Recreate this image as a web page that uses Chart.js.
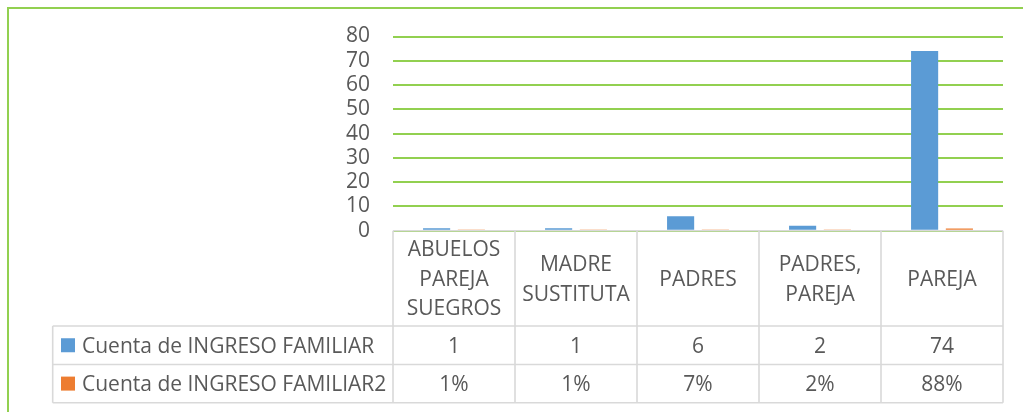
<!DOCTYPE html>
<html>
<head>
<meta charset="utf-8">
<script src="https://cdn.jsdelivr.net/npm/chart.js@4/dist/chart.umd.min.js"></script>
<style>
html,body{margin:0;padding:0;background:#fff;}
canvas{display:block;}
</style>
</head>
<body>
<canvas id="c" width="1023" height="412"></canvas>
<script>
const categories = [["ABUELOS","PAREJA","SUEGROS"],["MADRE","SUSTITUTA"],["PADRES"],["PADRES,","PAREJA"],["PAREJA"]];
const seriesNames = ["Cuenta de INGRESO FAMILIAR","Cuenta de INGRESO FAMILIAR2"];
const countValues = [1,1,6,2,74];
const shareValues = [0.01,0.01,0.07,0.02,0.88];
const yTicks = [0,10,20,30,40,50,60,70,80];

const FONT = '"Open Sans", sans-serif';
const FS = 21;
const TXT = '#595959';
const LINE = '#d9d9d9';
const GREEN = '#92D050';
const colors = ['#5B9BD5','#ED7D31'];

const fmt = [v => String(v), v => Math.round(v*100) + '%'];

const tablePlugin = {
  id: 'dataTable',
  afterDraw(chart) {
    const ctx = chart.ctx;
    const ca = chart.chartArea;
    const xs = chart.scales.x;
    const n = categories.length;
    const cw = (ca.right - ca.left) / n;
    const top = ca.bottom;
    const hdrBottom = 326;
    const rowB = [hdrBottom, 364.5, 402.7];
    const legLeft = 52.7;
    ctx.save();
    // outer border
    ctx.strokeStyle = GREEN;
    ctx.lineWidth = 2;
    ctx.strokeRect(8, 8, 1200, 600);
    // table lines
    ctx.strokeStyle = LINE;
    ctx.lineWidth = 1.6;
    ctx.beginPath();
    ctx.moveTo(ca.left, top); ctx.lineTo(ca.right, top);
    for (const y of rowB) { ctx.moveTo(legLeft, y); ctx.lineTo(ca.right, y); }
    for (let i = 0; i <= n; i++) {
      const x = ca.left + i * cw;
      ctx.moveTo(x, top); ctx.lineTo(x, rowB[2]);
    }
    ctx.moveTo(legLeft, hdrBottom); ctx.lineTo(legLeft, rowB[2]);
    ctx.stroke();
    // text
    ctx.fillStyle = TXT;
    ctx.font = FS + 'px ' + FONT;
    ctx.textAlign = 'center';
    ctx.textBaseline = 'alphabetic';
    const capHalf = FS * 0.357;
    const lh = 29.5;
    const hc = (top + hdrBottom) / 2;
    categories.forEach((lines, i) => {
      const cx = xs.getPixelForValue(i);
      const start = hc - (lines.length - 1) * lh / 2;
      lines.forEach((t, j) => ctx.fillText(t, cx, start + j * lh + capHalf));
    });
    const rows = [countValues, shareValues];
    rows.forEach((vals, r) => {
      const cy = (rowB[r] + rowB[r+1]) / 2;
      ctx.textAlign = 'center';
      ctx.fillStyle = TXT;
      vals.forEach((v, i) => ctx.fillText(fmt[r](v), xs.getPixelForValue(i), cy + capHalf));
      ctx.fillStyle = colors[r];
      ctx.fillRect(61, cy - 7, 14, 14);
      ctx.fillStyle = TXT;
      ctx.textAlign = 'left';
      ctx.fillText(seriesNames[r], 82, cy + capHalf);
    });
    ctx.restore();
  }
};

new Chart(document.getElementById('c'), {
  type: 'bar',
  data: {
    labels: categories.map(l => l.join(' ')),
    datasets: [
      { label: seriesNames[0], data: countValues, backgroundColor: colors[0], borderWidth: 0, categoryPercentage: 0.57, barPercentage: 0.78 },
      { label: seriesNames[1], data: shareValues, backgroundColor: colors[1], borderWidth: 0, categoryPercentage: 0.57, barPercentage: 0.78 }
    ]
  },
  options: {
    responsive: false,
    animation: false,
    devicePixelRatio: 1,
    layout: { padding: { top: 36.5, right: 20, bottom: 0, left: 0 } },
    plugins: { legend: { display: false }, tooltip: { enabled: false } },
    scales: {
      x: {
        ticks: { display: false },
        grid: { display: false },
        border: { display: false },
        afterFit(s) { s.height = 181.3; }
      },
      y: {
        min: 0, max: 80,
        afterBuildTicks(s) { s.ticks = yTicks.map(v => ({ value: v })); },
        ticks: { color: TXT, font: { family: FONT, size: FS }, padding: 23, autoSkip: false },
        grid: { color: GREEN, lineWidth: 2, drawTicks: false },
        border: { display: false },
        afterFit(s) { s.width = 393; }
      }
    }
  },
  plugins: [tablePlugin]
});
</script>
</body>
</html>
